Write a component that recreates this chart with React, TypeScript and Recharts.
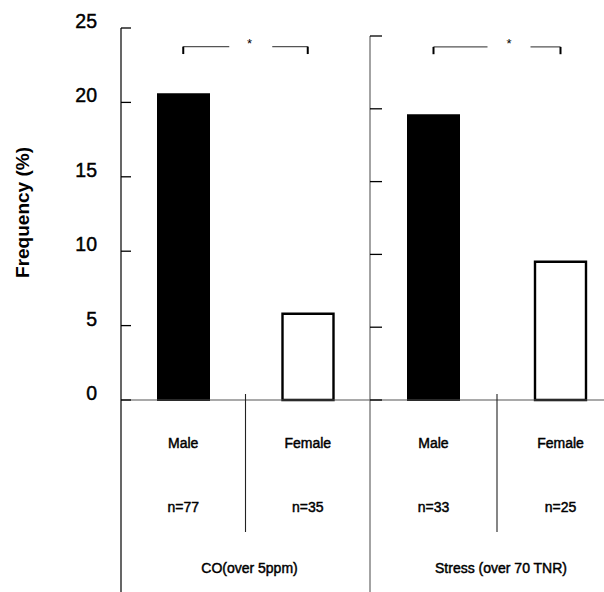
import React from 'react';
import { BarChart, Bar, XAxis, YAxis, Cell, ReferenceLine } from 'recharts';

// ---- data ----
const categories = ['Male', 'Female'];
const panelTitles = ['CO(over 5ppm)', 'Stress (over 70 TNR)'];
const coFrequency = [20.55, 5.8];
const stressFrequency = [19.55, 9.5];
const coN = [77, 35];
const stressN = [33, 25];
const yTicks = [0, 5, 10, 15, 20, 25];
const yMax = 25;
const sigLevel = [23.75, 24.25];
const sigDrop = [0.5, 0.5];
const sigMark = '*';

const FONT = '"Liberation Sans", Arial, sans-serif';
const H = 592;
const X_AXIS_H = 192;
const TXT = { fontFamily: FONT, fill: '#000', stroke: '#000', strokeWidth: 0.45 } as const;

const makeYTick = (showLabel: boolean, color: string, len: number) => (props: any) => {
  const { x, y, payload } = props;
  return (
    <g>
      <line x1={x} x2={x + len} y1={y} y2={y} stroke={color} strokeWidth={1.3} />
      {showLabel && (
        <text x={x - 24} y={y - 7} textAnchor="end" dominantBaseline="central" fontSize={19.5} {...TXT}>
          {payload.value}
        </text>
      )}
    </g>
  );
};

const makeXTick = (title: string, nValues: number[], band: number, axisColor: string) => (props: any) => {
  const { x, y, payload } = props;
  const i = categories.indexOf(payload.value);
  return (
    <g>
      {i === 0 && (
        <g>
          <line x1={x - band / 2} x2={x - band / 2} y1={y} y2={y + X_AXIS_H} stroke={axisColor} strokeWidth={1.2} />
          <line x1={x + band / 2} x2={x + band / 2} y1={y - 6} y2={y + 132} stroke="#222" strokeWidth={1.1} />
          <text x={x + band / 2 + 4} y={y + 167.5} textAnchor="middle" dominantBaseline="central" fontSize={14} {...TXT}>
            {title}
          </text>
        </g>
      )}
      <text x={x} y={y + 43} textAnchor="middle" dominantBaseline="central" fontSize={14} {...TXT}>
        {payload.value}
      </text>
      <text x={x} y={y + 107} textAnchor="middle" dominantBaseline="central" fontSize={14} {...TXT}>
        {`n=${nValues[i]}`}
      </text>
    </g>
  );
};

const YLabel = (props: any) => {
  const vb = props.viewBox || { x: 0, y: 28, width: 121, height: 372 };
  const cx = vb.x + 22.5;
  const cy = vb.y + vb.height / 2 - 1.5;
  return (
    <text x={cx} y={cy} transform={`rotate(-90 ${cx} ${cy})`} textAnchor="middle" dominantBaseline="central" fontSize={19} fontWeight="bold" fontFamily={FONT} fill="#000">
      Frequency (%)
    </text>
  );
};

const Star = (props: any) => {
  const vb = props.viewBox || { x: 0, y: 0, width: 0 };
  return (
    <text x={vb.x + vb.width / 2 + (props.shift || 0)} y={vb.y + 1} textAnchor="middle" fontSize={13} fontFamily={FONT} fill="#000">
      {sigMark}
    </text>
  );
};

type PanelProps = {
  idx: number;
  values: number[];
  nValues: number[];
  left: number;
  width: number;
  top: number;
  yAxisW: number;
  showLabels: boolean;
  axisColor: string;
  tickLen: number;
  dash: string;
  starShift: number;
};

const Panel = (p: PanelProps) => {
  const data = categories.map((c, i) => ({ sex: c, value: p.values[i] }));
  const plotW = p.width - p.yAxisW;
  const band = plotW / categories.length;
  const lvl = sigLevel[p.idx];
  const drop = lvl - sigDrop[p.idx];
  return (
    <div style={{ position: 'absolute', left: p.left, top: 0 }}>
      <BarChart width={p.width} height={H} data={data} margin={{ top: p.top, right: 0, bottom: 0, left: 0 }}>
        <XAxis
          dataKey="sex"
          height={X_AXIS_H}
          interval={0}
          tickSize={0}
          tickMargin={0}
          tickLine={false}
          axisLine={{ stroke: '#555', strokeWidth: 1.2 }}
          tick={makeXTick(panelTitles[p.idx], p.nValues, band, p.axisColor)}
        />
        <YAxis
          domain={[0, yMax]}
          ticks={yTicks}
          interval={0}
          width={p.yAxisW}
          tickSize={0}
          tickMargin={0}
          tickLine={false}
          axisLine={{ stroke: p.axisColor, strokeWidth: 1.2 }}
          tick={makeYTick(p.showLabels, '#000', p.tickLen)}
          label={p.showLabels ? <YLabel /> : undefined}
        />
        <Bar dataKey="value" barSize={51} isAnimationActive={false}>
          {data.map((d, i) => (
            <Cell key={d.sex} fill={i === 0 ? '#000' : '#fff'} stroke="#000" strokeWidth={i === 0 ? 2 : 2.4} />
          ))}
        </Bar>
        <ReferenceLine
          segment={[{ x: categories[0], y: lvl }, { x: categories[1], y: lvl }]}
          stroke="#555"
          strokeWidth={1.3}
          strokeDasharray={p.dash}
          label={<Star shift={p.starShift} />}
        />
        <ReferenceLine segment={[{ x: categories[0], y: lvl }, { x: categories[0], y: drop }]} stroke="#000" strokeWidth={2} />
        <ReferenceLine segment={[{ x: categories[1], y: lvl }, { x: categories[1], y: drop }]} stroke="#000" strokeWidth={2} />
      </BarChart>
    </div>
  );
};

export default function App() {
  return (
    <div style={{ position: 'absolute', left: 0, top: 0, width: 604, height: 592, overflow: 'hidden', background: '#fff' }}>
      <Panel idx={0} values={coFrequency} nValues={coN} left={0} width={370} top={28} yAxisW={121} showLabels={true} axisColor="#000" tickLen={10} dash="46 43 300" starShift={4} />
      <Panel idx={1} values={stressFrequency} nValues={stressN} left={350} width={274} top={36} yAxisW={20} showLabels={false} axisColor="#666" tickLen={12} dash="54 43 300" starShift={12} />
    </div>
  );
}
